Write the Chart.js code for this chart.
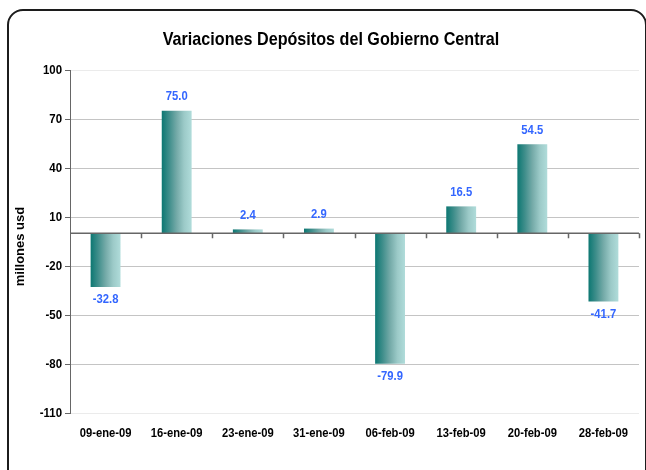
<!DOCTYPE html>
<html>
<head>
<meta charset="utf-8">
<script src="https://cdn.jsdelivr.net/npm/chart.js@4/dist/chart.umd.min.js"></script>
<style>
  html, body { margin: 0; padding: 0; background: #fff; }
  body { width: 646px; height: 470px; overflow: hidden; position: relative; }
  #frame { position: absolute; left: 7px; top: 9px; width: 640px; height: 480px;
           border: 2px solid #1c1c1c; border-radius: 16px; box-sizing: border-box; }
  #c { position: absolute; left: 0; top: 0; }
</style>
</head>
<body>
<div id="frame"></div>
<canvas id="c" width="646" height="470"></canvas>
<script>
const chartTitle = 'Variaciones Depósitos del Gobierno Central';
const yAxisTitle = 'millones usd';
const categories = ['09-ene-09', '16-ene-09', '23-ene-09', '31-ene-09', '06-feb-09', '13-feb-09', '20-feb-09', '28-feb-09'];
const variaciones = [-32.8, 75.0, 2.4, 2.9, -79.9, 16.5, 54.5, -41.7];
const yTicks = [100, 70, 40, 10, -20, -50, -80, -110];

const FONT = '"Liberation Sans", Arial, sans-serif';
const BAR_FRACTION = 0.42;

function barGradient(ctx) {
  const chart = ctx.chart;
  const x = chart.scales.x;
  if (ctx.type !== 'data' || !x || !chart.chartArea) return '#6fa9a7';
  const cx = x.getPixelForValue(ctx.dataIndex);
  const w = (x.width / categories.length) * BAR_FRACTION;
  const g = chart.ctx.createLinearGradient(cx - w / 2, 0, cx + w / 2, 0);
  g.addColorStop(0, '#0c7772');
  g.addColorStop(0.25, '#3f8e8b');
  g.addColorStop(0.5, '#74aaa8');
  g.addColorStop(0.75, '#9ccac8');
  g.addColorStop(1, '#b0dcda');
  return g;
}

// draw text with a horizontal condensing factor (reference text is narrow)
function txt(c, s, x, y, size, sx, align, baseline, color, rot) {
  c.save();
  c.translate(x, y);
  if (rot) c.rotate(rot);
  c.scale(sx, 1);
  c.font = 'bold ' + size + 'px ' + FONT;
  c.fillStyle = color || '#000';
  c.textAlign = align;
  c.textBaseline = baseline;
  c.fillText(s, 0, 0);
  c.restore();
}

const extras = {
  id: 'extras',
  afterDatasetsDraw(chart) {
    const c = chart.ctx;
    const x = chart.scales.x, y = chart.scales.y;
    const y0 = y.getPixelForValue(0);
    // zero line with category tick marks
    c.save();
    c.strokeStyle = '#666666';
    c.lineWidth = 1.5;
    c.beginPath();
    c.moveTo(x.left, y0);
    c.lineTo(x.right, y0);
    const cw = x.width / categories.length;
    for (let i = 1; i <= categories.length; i++) {
      const px = Math.round(x.left + i * cw) + 0.5;
      c.moveTo(px, y0);
      c.lineTo(px, y0 + 5);
    }
    c.stroke();
    c.restore();
    // data labels
    const meta = chart.getDatasetMeta(0);
    meta.data.forEach((bar, i) => {
      const v = variaciones[i];
      const ly = v >= 0 ? bar.y - 14 : bar.y + 13;
      txt(c, v.toFixed(1), bar.x, ly, 12.5, 0.9, 'center', 'middle', '#3366ff');
    });
  },
  afterDraw(chart) {
    const c = chart.ctx;
    const x = chart.scales.x, y = chart.scales.y;
    // title
    txt(c, chartTitle, 331, 45, 19, 0.85, 'center', 'alphabetic', '#000');
    // y tick labels
    yTicks.forEach(v => {
      txt(c, String(v), y.right - 8, y.getPixelForValue(v), 13, 0.88, 'right', 'middle', '#000');
    });
    // x tick labels
    categories.forEach((lab, i) => {
      txt(c, lab, x.getPixelForValue(i), 433, 13.5, 0.83, 'center', 'middle', '#000');
    });
    // y axis title
    txt(c, yAxisTitle, 20, (y.top + y.bottom) / 2 + 5, 13, 1, 'center', 'middle', '#000', -Math.PI / 2);
  }
};

new Chart(document.getElementById('c'), {
  type: 'bar',
  data: {
    labels: categories,
    datasets: [{
      data: variaciones,
      backgroundColor: barGradient,
      borderWidth: 0,
      categoryPercentage: 1,
      barPercentage: BAR_FRACTION
    }]
  },
  options: {
    responsive: false,
    animation: false,
    events: [],
    layout: { padding: { top: 70, right: 7, bottom: 0, left: 0 } },
    plugins: { legend: { display: false }, tooltip: { enabled: false }, title: { display: false } },
    scales: {
      x: {
        grid: { display: false, drawTicks: false },
        border: { display: false },
        ticks: { display: false, autoSkip: false },
        afterFit(s) { s.height = 57; }
      },
      y: {
        min: -110,
        max: 100,
        afterBuildTicks(s) { s.ticks = yTicks.map(v => ({ value: v })); },
        grid: {
          color: (ctx) => (ctx.tick && (ctx.tick.value === 100 || ctx.tick.value === -110)) ? '#ebebeb' : '#c4c4c4',
          lineWidth: 1,
          drawTicks: true,
          tickLength: 5,
          tickColor: '#666'
        },
        border: { display: true, color: '#666', width: 1 },
        ticks: { display: false },
        afterFit(s) { s.width = 70; }
      }
    }
  },
  plugins: [extras]
});
</script>
</body>
</html>
